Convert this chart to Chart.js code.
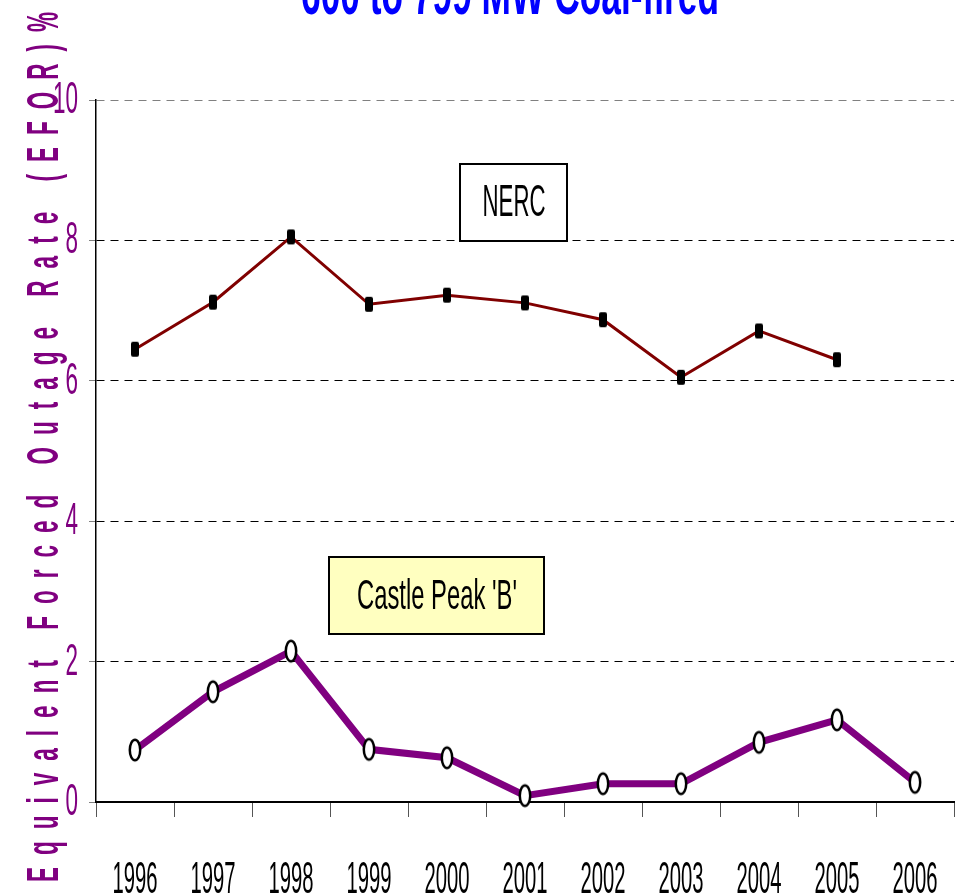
<!DOCTYPE html>
<html>
<head>
<meta charset="utf-8">
<script src="https://cdn.jsdelivr.net/npm/chart.js@4"></script>
<style>
  body { margin: 0; background: #fff; }
  canvas { display: block; }
</style>
</head>
<body>
<canvas id="eforChart" width="969" height="896"></canvas>
<script>
const years = ['1996', '1997', '1998', '1999', '2000', '2001', '2002', '2003', '2004', '2005', '2006'];
const nercEfor = [6.45, 7.12, 8.05, 7.09, 7.22, 7.11, 6.87, 6.05, 6.71, 6.30, null];
const castlePeakEfor = [0.74, 1.57, 2.15, 0.75, 0.63, 0.09, 0.26, 0.26, 0.85, 1.17, 0.28];
const yTicks = [0, 2, 4, 6, 8, 10];
const chartTitle = '600 to 799 MW Coal-fired';
const yTitle = 'Equivalent Forced Outage Rate (EFOR)%';
const seriesNames = ['NERC', "Castle Peak 'B'"];

const narrow = "'Liberation Sans Narrow', 'Liberation Sans', Arial, sans-serif";

// marker images
function rectMarker() {
  const c = document.createElement('canvas');
  c.width = 10; c.height = 17;
  const g = c.getContext('2d');
  g.fillStyle = '#000';
  g.beginPath();
  g.roundRect(1, 1, 8, 15, 2);
  g.fill();
  return c;
}
function ellipseMarker() {
  const c = document.createElement('canvas');
  c.width = 16; c.height = 26;
  const g = c.getContext('2d');
  g.fillStyle = '#fff';
  g.strokeStyle = '#000';
  g.lineWidth = 2.5;
  g.beginPath();
  g.ellipse(8, 13, 5.2, 10.2, 0, 0, Math.PI * 2);
  g.fill();
  g.stroke();
  return c;
}

// draws text squeezed horizontally so that it is `width` px wide
function fitText(ctx, text, x, y, width, align) {
  const w = ctx.measureText(text).width;
  const sx = width / w;
  ctx.save();
  ctx.translate(x, y);
  ctx.scale(sx, 1);
  ctx.textAlign = align;
  ctx.fillText(text, 0, 0);
  ctx.restore();
}

const textPlugin = {
  id: 'textPlugin',
  afterDraw(chart) {
    const ctx = chart.ctx;
    const xs = chart.scales.x;
    const ys = chart.scales.y;
    ctx.save();
    ctx.textBaseline = 'alphabetic';

    // title, mostly cut off at the top
    ctx.fillStyle = '#0000ff';
    ctx.font = 'bold 62px ' + narrow;
    fitText(ctx, chartTitle, 510, 14, 418, 'center');

    // y tick labels
    ctx.fillStyle = '#800080';
    ctx.font = '44px ' + narrow;
    yTicks.forEach(v => {
      const t = String(v);
      fitText(ctx, t, 78, ys.getPixelForValue(v) + 13, 12.5 * t.length, 'right');
    });

    // x tick labels
    ctx.fillStyle = '#000';
    years.forEach((yr, i) => {
      fitText(ctx, yr, xs.getPixelForValue(i), 893, 45, 'center');
    });

    // y axis title, spaced out letters
    ctx.fillStyle = '#800080';
    ctx.font = 'bold 45px ' + narrow;
    const sx = 15 / ctx.measureText('E').width;
    const chars = yTitle.split('');
    const widths = chars.map(ch => ctx.measureText(ch).width * sx);
    const total = 870;
    const gap = (total - widths.reduce((a, b) => a + b, 0)) / (chars.length - 1);
    ctx.translate(58, 882);
    ctx.rotate(-Math.PI / 2);
    let pos = 0;
    chars.forEach((ch, i) => {
      ctx.save();
      ctx.translate(pos, 0);
      ctx.scale(sx, 1);
      ctx.textAlign = 'left';
      ctx.fillText(ch, 0, 0);
      ctx.restore();
      pos += widths[i] + gap;
    });
    ctx.restore();

    // series label boxes
    ctx.save();
    ctx.lineWidth = 2;
    ctx.strokeStyle = '#000';
    ctx.fillStyle = '#fff';
    ctx.fillRect(460, 164, 107, 77);
    ctx.strokeRect(460, 164, 107, 77);
    ctx.fillStyle = '#ffffc0';
    ctx.fillRect(329, 557, 215, 77);
    ctx.strokeRect(329, 557, 215, 77);
    ctx.fillStyle = '#000';
    ctx.textBaseline = 'alphabetic';
    ctx.font = '45px ' + narrow;
    fitText(ctx, seriesNames[0], 514, 216, 63, 'center');
    ctx.font = '43px ' + narrow;
    fitText(ctx, seriesNames[1], 437, 609, 160, 'center');
    ctx.restore();
  }
};

const data = {
  labels: years,
  datasets: [
    {
      label: seriesNames[0],
      data: nercEfor,
      borderColor: '#800000',
      borderWidth: 3,
      pointStyle: rectMarker(),
      pointRadius: 5,
      tension: 0,
      clip: false
    },
    {
      label: seriesNames[1],
      data: castlePeakEfor,
      borderColor: '#800080',
      borderWidth: 7,
      pointStyle: ellipseMarker(),
      pointRadius: 8,
      tension: 0,
      clip: false
    }
  ]
};

const config = {
  type: 'line',
  data: data,
  options: {
    responsive: false,
    devicePixelRatio: 1,
    animation: false,
    layout: { padding: { top: 100, right: 7, left: 0, bottom: 0 } },
    plugins: {
      legend: { display: false },
      title: { display: false },
      tooltip: { enabled: false }
    },
    scales: {
      x: {
        offset: true,
        grid: {
          offset: true,
          drawOnChartArea: false,
          drawTicks: true,
          tickLength: 15,
          color: '#555'
        },
        border: { display: true, color: '#000', width: 2 },
        ticks: { display: false },
        afterFit: scale => { scale.height = 94; }
      },
      y: {
        min: 0,
        max: 10,
        ticks: { display: false, stepSize: 2 },
        grid: {
          color: c => (c.tick && c.tick.value === 10) ? '#808080' : '#000',
          tickColor: '#808080',
          tickLength: 7,
          lineWidth: 1
        },
        border: { display: true, color: '#000', width: 1.5, dash: [8, 6] },
        afterFit: scale => { scale.width = 96; }
      }
    }
  },
  plugins: [textPlugin]
};

const myChart = new Chart(document.getElementById('eforChart'), config);
</script>
</body>
</html>
